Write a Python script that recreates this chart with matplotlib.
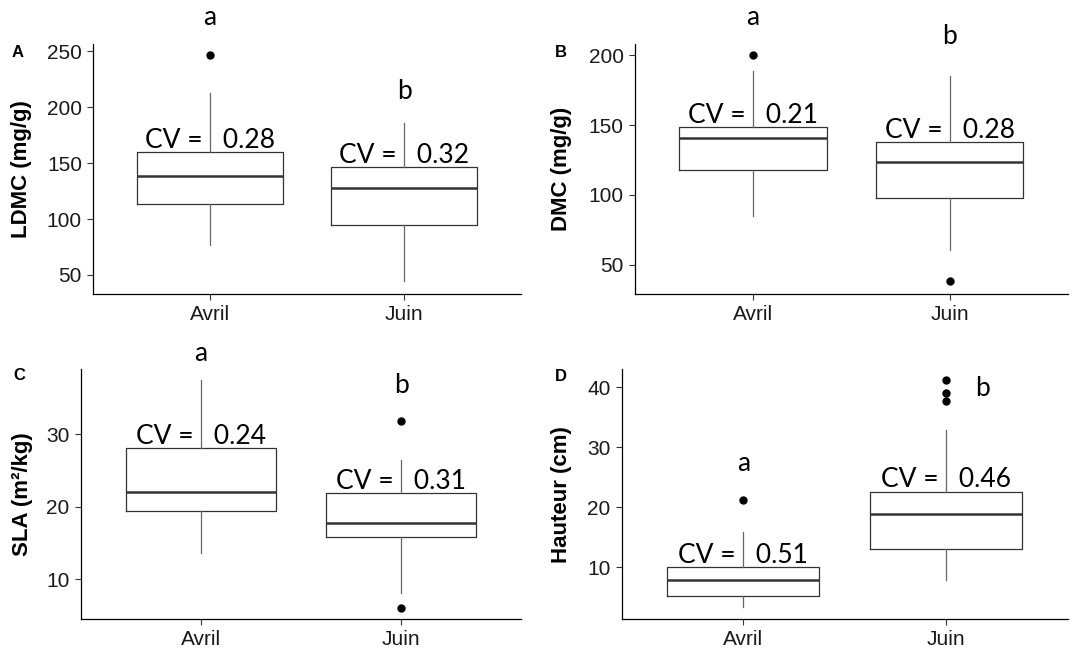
import numpy as np
import matplotlib.pyplot as plt

months = ['Avril', 'Juin']

# LDMC (panel A)
ldmc_whislo = [77, 44.5]
ldmc_q1 = [113.5, 94.5]
ldmc_med = [138, 128]
ldmc_q3 = [160, 146.5]
ldmc_whishi = [212.5, 186]
ldmc_fliers = [[246.5], []]
ldmc_cv = ['0.28', '0.32']
ldmc_letters = ['a', 'b']
ldmc_letter_y = [280, 213.6]

# DMC (panel B)
dmc_whislo = [85, 60.3]
dmc_q1 = [118, 98]
dmc_med = [140.5, 123.6]
dmc_q3 = [148.7, 138]
dmc_whishi = [188.5, 185.2]
dmc_fliers = [[200.3], [38.4]]
dmc_cv = ['0.21', '0.28']
dmc_letters = ['a', 'b']
dmc_letter_y = [227, 213.2]

# SLA (panel C)
sla_whislo = [13.7, 8.1]
sla_q1 = [19.4, 15.9]
sla_med = [22.0, 17.8]
sla_q3 = [28.1, 21.9]
sla_whishi = [37.5, 26.5]
sla_fliers = [[], [31.9, 6.1]]
sla_cv = ['0.24', '0.31']
sla_letters = ['a', 'b']
sla_letter_y = [41.2, 36.8]

# Hauteur (panel D)
haut_whislo = [3.4, 7.8]
haut_q1 = [5.2, 13.0]
haut_med = [7.8, 18.9]
haut_q3 = [10.0, 22.6]
haut_whishi = [15.9, 32.9]
haut_fliers = [[21.2], [41.2, 39.0, 37.7]]
haut_cv = ['0.51', '0.46']
haut_letters = ['a', 'b']
haut_letter_y = [27.3, 39.7]


def make_stats(whislo, q1, med, q3, whishi, fliers):
    stats = []
    for i in range(len(months)):
        stats.append(dict(whislo=whislo[i], q1=q1[i], med=med[i], q3=q3[i],
                          whishi=whishi[i], fliers=fliers[i], label=months[i]))
    return stats


fig = plt.figure(figsize=(10.72, 6.53), dpi=100)

panels = [
    # rect, label, label pos, ylabel, ylabel x, stats, q3, cv, letters, letter y, ylim, yticks, letter x
    ([0.0868, 0.5498, 0.399, 0.383], 'A', (0.0168, 0.920), 'LDMC (mg/g)', -0.143,
     make_stats(ldmc_whislo, ldmc_q1, ldmc_med, ldmc_q3, ldmc_whishi, ldmc_fliers),
     ldmc_q3, ldmc_cv, ldmc_letters, ldmc_letter_y, (33, 256.5), [50, 100, 150, 200, 250], [1, 2]),
    ([0.592, 0.5498, 0.404, 0.383], 'B', (0.5235, 0.920), 'DMC (mg/g)', -0.144,
     make_stats(dmc_whislo, dmc_q1, dmc_med, dmc_q3, dmc_whishi, dmc_fliers),
     dmc_q3, dmc_cv, dmc_letters, dmc_letter_y, (29, 208.2), [50, 100, 150, 200], [1, 2]),
    ([0.0753, 0.0516, 0.411, 0.383], 'C', (0.018, 0.425), 'SLA (m²/kg)', -0.108,
     make_stats(sla_whislo, sla_q1, sla_med, sla_q3, sla_whishi, sla_fliers),
     sla_q3, sla_cv, sla_letters, sla_letter_y, (4.5, 39), [10, 20, 30], [1, 2]),
    ([0.580, 0.0516, 0.416, 0.383], 'D', (0.523, 0.423), 'Hauteur (cm)', -0.111,
     make_stats(haut_whislo, haut_q1, haut_med, haut_q3, haut_whishi, haut_fliers),
     haut_q3, haut_cv, haut_letters, haut_letter_y, (1.3, 43), [10, 20, 30, 40], [1, 2.18]),
]

box_col = '#333333'
ann_font = 'Lato'
tick_font = 'Liberation Sans'

for rect, lab, lab_pos, ylab, ylab_x, stats, q3, cv, letters, letter_y, ylim, yticks, letter_x in panels:
    ax = fig.add_axes(rect)
    ax.bxp(stats, positions=[1, 2], widths=0.75, showcaps=False,
           boxprops=dict(color=box_col, linewidth=0.9),
           whiskerprops=dict(color='#666666', linewidth=0.9),
           medianprops=dict(color=box_col, linewidth=1.8),
           flierprops=dict(marker='o', markerfacecolor='black', markeredgecolor='black',
                           markersize=5))
    ax.set_xlim(0.4, 2.6)
    ax.set_ylim(*ylim)
    ax.set_yticks(yticks)
    ax.set_xticks([1, 2])
    ax.set_xticklabels(months)
    for s in ['top', 'right']:
        ax.spines[s].set_visible(False)
    for s in ['left', 'bottom']:
        ax.spines[s].set_color('black')
        ax.spines[s].set_linewidth(0.9)
    ax.tick_params(axis='both', length=4, width=0.8, color='#333333', labelsize=15, pad=4)
    for t in ax.get_xticklabels() + ax.get_yticklabels():
        t.set_fontfamily(tick_font)
        t.set_color('#1a1a1a')
    ax.set_ylabel(ylab, fontsize=16, fontweight='bold', family=tick_font)
    ax.yaxis.set_label_coords(ylab_x, 0.5)

    for i in range(len(months)):
        ax.annotate('CV =   ' + cv[i], (i + 1, q3[i]), xytext=(0, 3), textcoords='offset points',
                    ha='center', va='baseline', fontsize=19, family=ann_font, color='black')
        ax.text(letter_x[i], letter_y[i], letters[i], ha='center', va='center',
                fontsize=19, family=ann_font, clip_on=False)

    fig.text(lab_pos[0], lab_pos[1], lab, fontsize=12, fontweight='bold',
             family=tick_font, ha='center', va='center')

fig.savefig('out.png', dpi=100)
